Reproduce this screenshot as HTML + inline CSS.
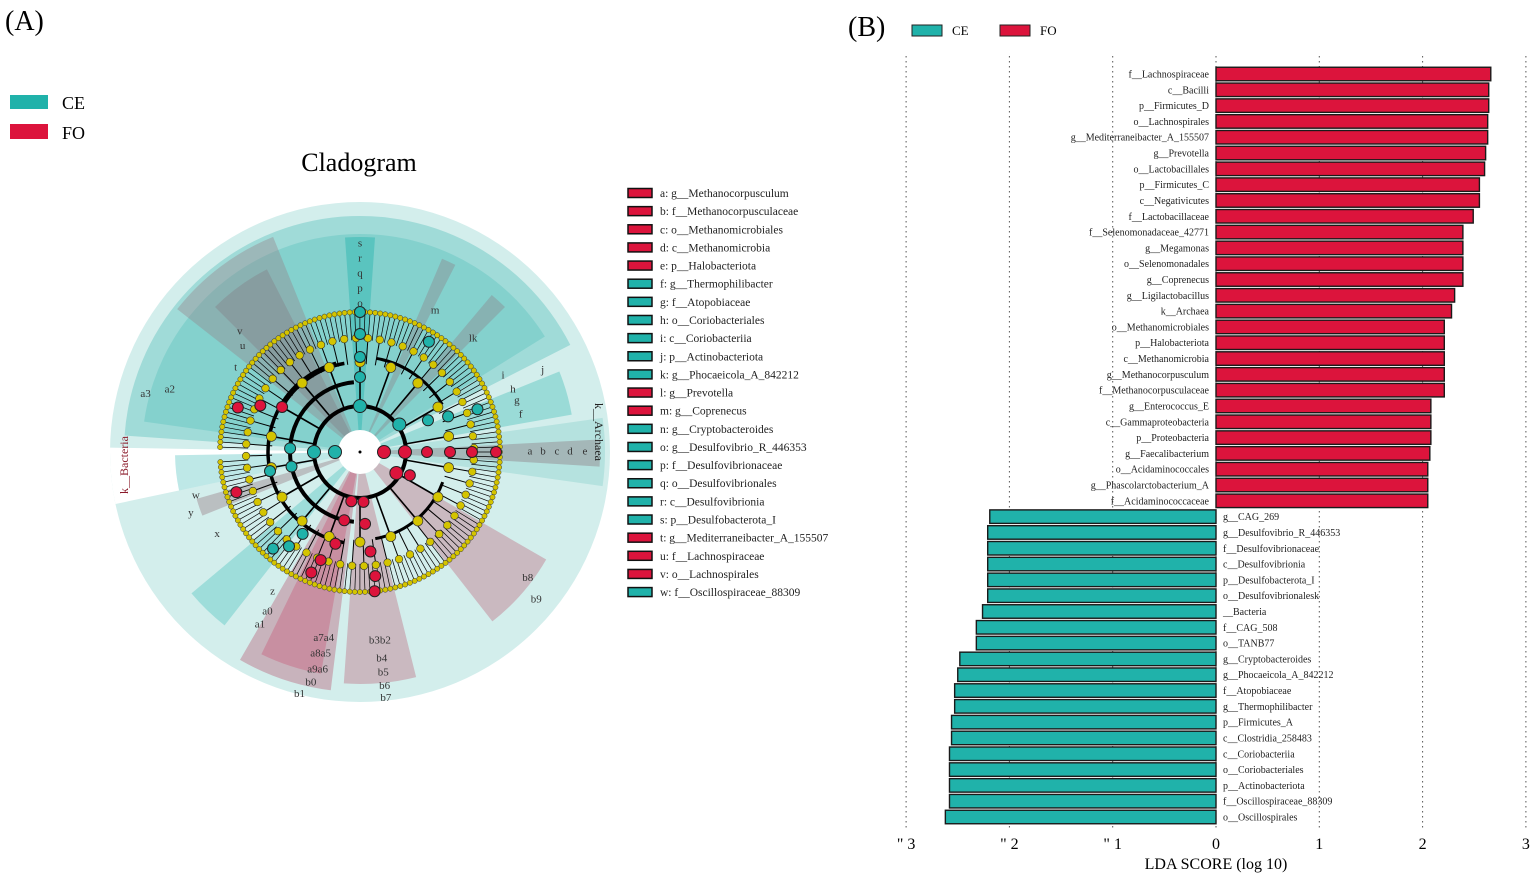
<!DOCTYPE html>
<html><head><meta charset="utf-8">
<style>
html,body{margin:0;padding:0;background:#fff;}
body{width:1535px;height:878px;overflow:hidden;position:relative;font-family:"Liberation Serif",serif;}
svg{position:absolute;left:0;top:0;}
</style></head>
<body>
<svg id="fig" width="1535" height="878" viewBox="0 0 1535 878" xmlns="http://www.w3.org/2000/svg" font-family="Liberation Serif, serif">
  <text x="5" y="30" font-size="28">(A)</text>
  <rect x="10" y="95" width="38" height="14" fill="#20b2aa"/>
  <text x="62" y="109" font-size="18">CE</text>
  <rect x="10" y="124" width="38" height="15" fill="#dc143c"/>
  <text x="62" y="139" font-size="18">FO</text>
  <text x="359" y="171" font-size="26" text-anchor="middle">Cladogram</text>
  <g id="clado"></g>
  <g id="cladoLegend"></g>

  <text x="848" y="36" font-size="28">(B)</text>
  <rect x="912" y="25" width="30" height="11" fill="#20b2aa" stroke="#222" stroke-width="1"/>
  <text x="952" y="35" font-size="13">CE</text>
  <rect x="1000" y="25" width="30" height="11" fill="#dc143c" stroke="#222" stroke-width="1"/>
  <text x="1040" y="35" font-size="13">FO</text>
  <g id="lda"></g>
</svg>
<script>
// ===== LDA chart data =====
const foLabels = ["f__Lachnospiraceae","c__Bacilli","p__Firmicutes_D","o__Lachnospirales","g__Mediterraneibacter_A_155507","g__Prevotella","o__Lactobacillales","p__Firmicutes_C","c__Negativicutes","f__Lactobacillaceae","f__Selenomonadaceae_42771","g__Megamonas","o__Selenomonadales","g__Coprenecus","g__Ligilactobacillus","k__Archaea","o__Methanomicrobiales","p__Halobacteriota","c__Methanomicrobia","g__Methanocorpusculum","f__Methanocorpusculaceae","g__Enterococcus_E","c__Gammaproteobacteria","p__Proteobacteria","g__Faecalibacterium","o__Acidaminococcales","g__Phascolarctobacterium_A","f__Acidaminococcaceae"];
const foValues = [2.66,2.64,2.64,2.63,2.63,2.61,2.60,2.55,2.55,2.49,2.39,2.39,2.39,2.39,2.31,2.28,2.21,2.21,2.21,2.21,2.21,2.08,2.08,2.08,2.07,2.05,2.05,2.05];
const ceLabels = ["g__CAG_269","g__Desulfovibrio_R_446353","f__Desulfovibrionaceae","c__Desulfovibrionia","p__Desulfobacterota_I","o__Desulfovibrionalesk","__Bacteria","f__CAG_508","o__TANB77","g__Cryptobacteroides","g__Phocaeicola_A_842212","f__Atopobiaceae","g__Thermophilibacter","p__Firmicutes_A","c__Clostridia_258483","c__Coriobacteriia","o__Coriobacteriales","p__Actinobacteriota","f__Oscillospiraceae_88309","o__Oscillospirales"];
const ceValues = [2.19,2.21,2.21,2.21,2.21,2.21,2.26,2.32,2.32,2.48,2.50,2.53,2.53,2.56,2.56,2.58,2.58,2.58,2.58,2.62];
const xTicks = [-3,-2,-1,0,1,2,3];
const xTickLabels = ['" 3','" 2','" 1','0','1','2','3'];

const NS="http://www.w3.org/2000/svg";
function mk(tag,attrs,parent){const e=document.createElementNS(NS,tag);for(const k in attrs)e.setAttribute(k,attrs[k]);parent.appendChild(e);return e;}
const lda=document.getElementById('lda');
const x0=1216, unit=103.3;
const xs=v=>x0+v*unit;
const nRows=foLabels.length+ceLabels.length;
const yTop=74, step=(817-74)/(nRows-1);
const ys=i=>yTop+i*step;
xTicks.forEach((t,i)=>{
  const g=mk('line',{x1:xs(t),x2:xs(t),y1:56,y2:830,stroke:'#555','stroke-width':1,'stroke-dasharray':'1.5,3.5'},lda);
  
  
  const tl=mk('text',{x:xs(t),y:849,'font-size':16,'text-anchor':'middle'},lda);
  tl.textContent=xTickLabels[i];
  
  
});
const xt=mk('text',{x:x0,y:869,'font-size':16,'text-anchor':'middle'},lda);
xt.textContent='LDA SCORE (log 10)';


const bh=13.5;
foLabels.forEach((lab,i)=>{
  const y=ys(i);
  const r=mk('rect',{x:x0,y:y-bh/2,width:xs(foValues[i])-x0,height:bh,fill:'#dc143c',stroke:'#1a1a1a','stroke-width':1.4},lda);
  
  
  const t=mk('text',{x:x0-7,y:y+3.5,'font-size':10,'text-anchor':'end',fill:'#222'},lda);
  t.textContent=lab;
  
  
});
ceLabels.forEach((lab,j)=>{
  const i=foLabels.length+j, y=ys(i);
  const r=mk('rect',{x:xs(-ceValues[j]),y:y-bh/2,width:x0-xs(-ceValues[j]),height:bh,fill:'#20b2aa',stroke:'#1a1a1a','stroke-width':1.4},lda);
  
  
  const t=mk('text',{x:x0+7,y:y+3.5,'font-size':10,'text-anchor':'start',fill:'#222'},lda);
  t.textContent=lab;
  
  
});

// ===== Cladogram legend =====
const legTexts=["a: g__Methanocorpusculum","b: f__Methanocorpusculaceae","c: o__Methanomicrobiales","d: c__Methanomicrobia","e: p__Halobacteriota","f: g__Thermophilibacter","g: f__Atopobiaceae","h: o__Coriobacteriales","i: c__Coriobacteriia","j: p__Actinobacteriota","k: g__Phocaeicola_A_842212","l: g__Prevotella","m: g__Coprenecus","n: g__Cryptobacteroides","o: g__Desulfovibrio_R_446353","p: f__Desulfovibrionaceae","q: o__Desulfovibrionales","r: c__Desulfovibrionia","s: p__Desulfobacterota_I","t: g__Mediterraneibacter_A_155507","u: f__Lachnospiraceae","v: o__Lachnospirales","w: f__Oscillospiraceae_88309"];
const legGroup=["FO","FO","FO","FO","FO","CE","CE","CE","CE","CE","CE","FO","FO","CE","CE","CE","CE","CE","CE","FO","FO","FO","CE"];
const cl=document.getElementById('cladoLegend');
legTexts.forEach((s,i)=>{
  const y=193+i*18.14;
  const r=mk('rect',{x:628,y:y-4.5,width:24,height:9,fill:legGroup[i]==='FO'?'#dc143c':'#20b2aa',stroke:'#111','stroke-width':1.5},cl);
  
  
  const t=mk('text',{x:660,y:y+4,'font-size':11.5,fill:'#222'},cl);
  t.textContent=s;
  
  
});

// ===== Cladogram drawing =====
const C=document.getElementById('clado');
const cx=360, cy=452;
function pt(r,a){const t=a*Math.PI/180;return [cx+r*Math.cos(t),cy+r*Math.sin(t)];}
function sector(r0,r1,a0,a1,fill){
  const [x1,y1]=pt(r1,a0),[x2,y2]=pt(r1,a1),[x3,y3]=pt(r0,a1),[x4,y4]=pt(r0,a0);
  const lg=(a1-a0)>180?1:0;
  let d=`M${x1},${y1} A${r1},${r1} 0 ${lg} 1 ${x2},${y2} L${x3},${y3}`;
  d+= r0>0?` A${r0},${r0} 0 ${lg} 0 ${x4},${y4} Z`:' Z';
  return mk('path',{d,fill},C);
}
function arc(r,a0,a1,w){
  const [x1,y1]=pt(r,a0),[x2,y2]=pt(r,a1);const lg=(a1-a0)>180?1:0;
  return mk('path',{d:`M${x1},${y1} A${r},${r} 0 ${lg} 1 ${x2},${y2}`,fill:'none',stroke:'#000','stroke-width':w},C);
}
const bg=mk('circle',{cx,cy,r:250,fill:'#d3eeec'},C);


const cladeSectors=[
  [0,250,168,181,'#ffffff'],
  [0,236,-176,-27,'rgba(110,200,195,0.5)'],
  [0,218,-172,-32,'rgba(90,195,190,0.4)'],
  [0,232,-142,-112,'rgba(150,120,130,0.35)'],
  [0,205,-135,-117,'rgba(130,110,120,0.3)'],
  [0,215,-94,-86,'rgba(40,180,175,0.45)'],
  [0,240,-3,3.5,'rgba(160,110,125,0.45)'],
  [0,215,-22,-10,'rgba(70,190,185,0.4)'],
  [0,245,-8,8,'rgba(90,190,185,0.25)'],
  [0,205,-50,-45,'rgba(140,120,130,0.35)'],
  [0,210,-67,-63,'rgba(140,120,130,0.35)'],
  [0,240,97,120,'rgba(190,120,140,0.5)'],
  [0,225,100,116,'rgba(200,90,120,0.4)'],
  [0,232,76,94,'rgba(190,120,140,0.45)'],
  [0,215,30,52,'rgba(190,120,140,0.45)'],
  [0,220,128,140,'rgba(60,190,185,0.35)'],
  [0,170,158,164,'rgba(150,120,130,0.4)'],
  [0,185,168,179,'rgba(70,190,185,0.35)']
];
cladeSectors.forEach(s=>{const p=sector(...s);});
const hole=mk('circle',{cx,cy,r:22,fill:'#fff'},C);


mk('circle',{cx,cy,r:1.5,fill:'#000'},C);

const leafCount=170;
for(let i=0;i<leafCount;i++){
  const a=-178+i*(356/leafCount);
  const [xa,ya]=pt(112,a),[xb,yb]=pt(140,a);
  mk('line',{x1:xa,y1:ya,x2:xb,y2:yb,stroke:'#000','stroke-width':0.7},C);
}
for(let i=0;i<60;i++){
  const a=-176+i*6;
  const [xa,ya]=pt(88,a),[xb,yb]=pt(114,a);
  mk('line',{x1:xa,y1:ya,x2:xb,y2:yb,stroke:'#000','stroke-width':1},C);
}
for(let i=0;i<18;i++){
  const a=-170+i*20;
  const [xa,ya]=pt(46,a),[xb,yb]=pt(90,a);
  mk('line',{x1:xa,y1:ya,x2:xb,y2:yb,stroke:'#000','stroke-width':1.6},C);
}
arc(46,-178,178,4);
arc(70,95,265,4);
arc(92,100,255,3.5);
arc(90,-150,-100,3.5);
arc(95,-80,-30,3);
arc(88,20,80,3);
for(let i=0;i<leafCount;i++){
  const a=-178+i*(356/leafCount);
  const [x,y]=pt(140,a);
  mk('circle',{cx:x,cy:y,r:2.6,fill:'#d4c400',stroke:'#333','stroke-width':0.5},C);
}
for(let i=0;i<60;i++){
  const a=-176+i*6;
  const [x,y]=pt(114,a);
  mk('circle',{cx:x,cy:y,r:3.8,fill:'#d4c400',stroke:'#333','stroke-width':0.6},C);
}
for(let i=0;i<18;i++){
  const a=-170+i*20;
  const [x,y]=pt(90,a);
  mk('circle',{cx:x,cy:y,r:5,fill:'#d4c400',stroke:'#333','stroke-width':0.7},C);
}
const nodeList=[
  [24,0,'#dc143c'],[45,0,'#dc143c'],[67,0,'#dc143c'],[90,0,'#dc143c'],[112,0,'#dc143c'],[136,0,'#dc143c'],
  [25,180,'#20b2aa'],[46,180,'#20b2aa'],[70,183,'#20b2aa'],[70,168,'#20b2aa'],[92,168,'#20b2aa'],
  [46,-90,'#20b2aa'],[75,-90,'#20b2aa'],[95,-90,'#20b2aa'],[118,-90,'#20b2aa'],[140,-90,'#20b2aa'],
  [48,-35,'#20b2aa'],[75,-25,'#20b2aa'],[95,-22,'#20b2aa'],[125,-20,'#20b2aa'],[130,-58,'#20b2aa'],
  [90,-150,'#dc143c'],[110,-155,'#dc143c'],[130,-160,'#dc143c'],[130,162,'#dc143c'],
  [50,100,'#dc143c'],[70,103,'#dc143c'],[95,105,'#dc143c'],[115,110,'#dc143c'],[130,112,'#dc143c'],
  [50,86,'#dc143c'],[72,86,'#dc143c'],[100,84,'#dc143c'],[125,83,'#dc143c'],[140,84,'#dc143c'],
  [42,30,'#dc143c'],[55,25,'#dc143c'],
  [100,125,'#20b2aa'],[118,127,'#20b2aa'],[130,132,'#20b2aa']
];
nodeList.forEach(n=>{
  const [x,y]=pt(n[0],n[1]);
  const c=mk('circle',{cx:x,cy:y,r:n[0]<50?6.5:5.5,fill:n[2],stroke:'#222','stroke-width':1},C);
  
  
});
const cladeLetters=[["s",-90,208],["r",-90,193],["q",-90,178],["p",-90,163],["o",-90,148],["m",-62,160],["lk",-45,160],["j",-24,200],["i",-28,162],["h",-22,165],["g",-18,165],["f",-13,165],["e",0,225],["d",0,210],["c",0,197],["b",0,183],["a",0,170],
["v",-135,170],["u",-138,158],["t",-146,150],["a2",-162,200],["a3",-165,222],["w",165,170],["y",160,180],["x",150,165],["z",122,165],["a0",120,185],["a1",120,200],
["a7a4",101,190],["a8a5",101,206],["a9a6",101,222],["b0",102,236],["b1",104,250],["b3b2",84,190],["b4",84,208],["b5",84,222],["b6",84,236],["b7",84,248],["b8",37,210],["b9",40,230]];
cladeLetters.forEach(l=>{
  const [x,y]=pt(l[2],l[1]);
  const t=mk('text',{x,y,'font-size':11,'text-anchor':'middle','dominant-baseline':'middle',fill:'#333'},C);
  t.textContent=l[0];
  
  
});
const kb=mk('text',{x:128,y:465,'font-size':12,'text-anchor':'middle',fill:'#8b1a2a',transform:'rotate(-90 128 465)'},C);
kb.textContent='k__Bacteria';


const ka=mk('text',{x:595,y:432,'font-size':12,'text-anchor':'middle',fill:'#222',transform:'rotate(90 595 432)'},C);
ka.textContent='k__Archaea';


</script>
</body></html>
